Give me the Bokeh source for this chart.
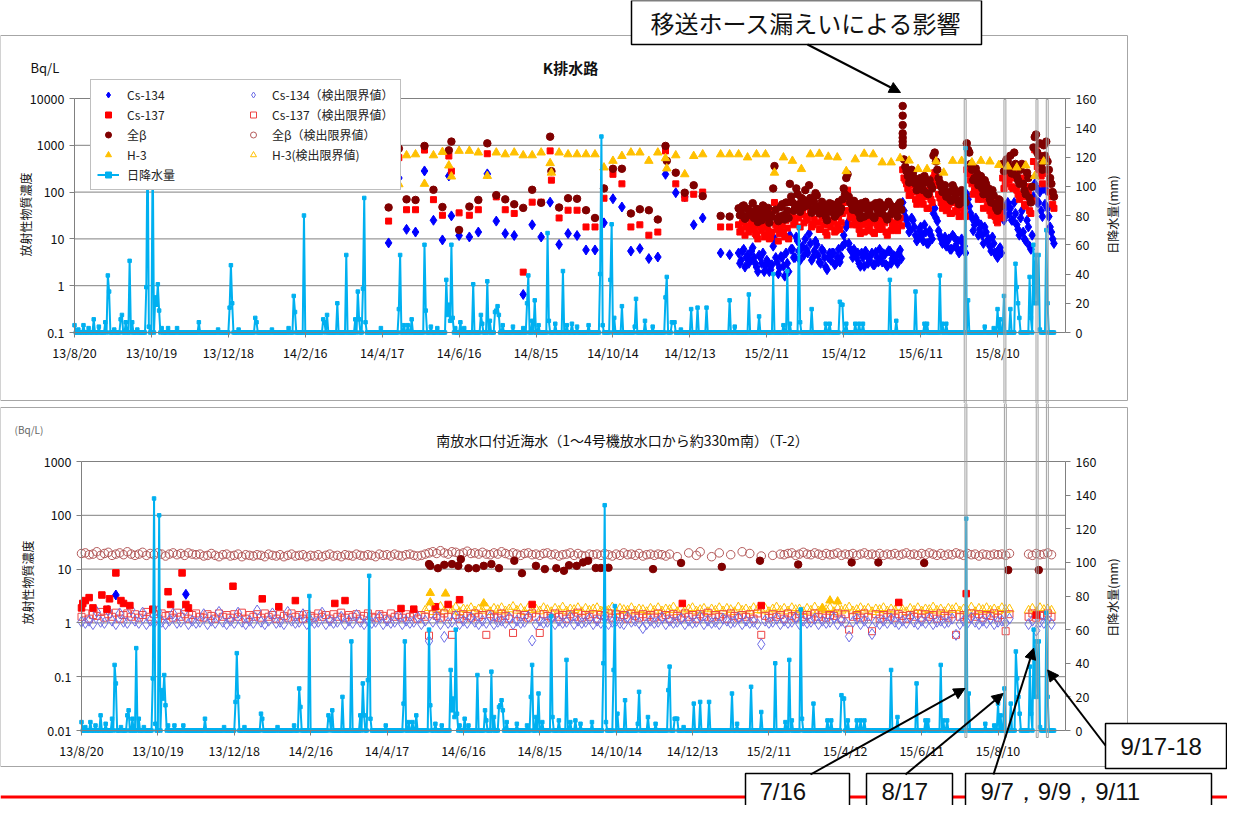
import numpy as np
import pandas as pd
from bokeh.plotting import figure
from bokeh.layouts import column
from bokeh.models import (Range1d, LinearAxis, LinearScale, FixedTicker, CustomJSTickFormatter,
                          Legend, LegendItem, Label, BoxAnnotation, Arrow, NormalHead)
from bokeh.embed import file_html
from bokeh.resources import INLINE

nan = float("nan")

# ---------------- axes ----------------
x_start = "2013-08-20"
x_end = "2015-10-02"
x_tick_dates = ["2013-08-20", "2013-10-19", "2013-12-18", "2014-02-16", "2014-04-17", "2014-06-16",
                "2014-08-15", "2014-10-14", "2014-12-13", "2015-02-11", "2015-04-12", "2015-06-11",
                "2015-08-10"]
x_tick_labels = ["13/8/20", "13/10/19", "13/12/18", "14/2/16", "14/4/17", "14/6/16", "14/8/15",
                 "14/10/14", "14/12/13", "15/2/11", "15/4/12", "15/6/11", "15/8/10"]
k_y_ticks = [0.1, 1, 10, 100, 1000, 10000]
k_y_labels = ["0.1", "1", "10", "100", "1000", "10000"]
t2_y_ticks = [0.01, 0.1, 1, 10, 100, 1000]
t2_y_labels = ["0.01", "0.1", "1", "10", "100", "1000"]
rain_ticks = [0, 20, 40, 60, 80, 100, 120, 140, 160]

# ---------------- daily rainfall (mm), days not listed = 0 ----------------
rain_first_day = "2013-08-20"
rain_last_day = "2015-09-23"
rain_dates = ["2013-08-20", "2013-08-23", "2013-08-27", "2013-08-31", "2013-09-04", "2013-09-08", "2013-09-13",
              "2013-09-15", "2013-09-16", "2013-09-20", "2013-09-25", "2013-09-26", "2013-09-29", "2013-10-02",
              "2013-10-04", "2013-10-08", "2013-10-15", "2013-10-16", "2013-10-17", "2013-10-20", "2013-10-22",
              "2013-10-23", "2013-10-24", "2013-10-25", "2013-10-27", "2013-11-01", "2013-11-08", "2013-11-25",
              "2013-12-10", "2013-12-19", "2013-12-20", "2013-12-21", "2013-12-26",
              "2014-01-08", "2014-01-09", "2014-01-21", "2014-02-03", "2014-02-07", "2014-02-08", "2014-02-15",
              "2014-03-02", "2014-03-03", "2014-03-05", "2014-03-13", "2014-03-20", "2014-03-27", "2014-03-29",
              "2014-03-30", "2014-04-02", "2014-04-03", "2014-04-04", "2014-04-16", "2014-04-30", "2014-05-01",
              "2014-05-04", "2014-05-07", "2014-05-10", "2014-05-20", "2014-05-21", "2014-05-25", "2014-05-30",
              "2014-06-06", "2014-06-07", "2014-06-08", "2014-06-09", "2014-06-10", "2014-06-11", "2014-06-13",
              "2014-06-17", "2014-06-20", "2014-06-27", "2014-07-03", "2014-07-04", "2014-07-08", "2014-07-10",
              "2014-07-14", "2014-07-15", "2014-07-16", "2014-07-17", "2014-07-20", "2014-07-28", "2014-08-05",
              "2014-08-08", "2014-08-09", "2014-08-12", "2014-08-14", "2014-08-17", "2014-08-24", "2014-08-25",
              "2014-08-30", "2014-09-05", "2014-09-08", "2014-09-12", "2014-09-16", "2014-09-25", "2014-10-04",
              "2014-10-05", "2014-10-06", "2014-10-12", "2014-10-13", "2014-10-15", "2014-10-21", "2014-10-31",
              "2014-11-01", "2014-11-08", "2014-11-14", "2014-11-24", "2014-11-25", "2014-11-29", "2014-11-30",
              "2014-12-01", "2014-12-06", "2014-12-14", "2014-12-19", "2014-12-26",
              "2015-01-13", "2015-01-17", "2015-01-28", "2015-02-05", "2015-02-16", "2015-02-24", "2015-02-27",
              "2015-03-01", "2015-03-08", "2015-03-09", "2015-03-18", "2015-03-29", "2015-04-01", "2015-04-09",
              "2015-04-10", "2015-04-11", "2015-04-14", "2015-04-21", "2015-04-24", "2015-04-27", "2015-05-18",
              "2015-05-23", "2015-06-07", "2015-06-14", "2015-06-16", "2015-06-26", "2015-06-28", "2015-07-01",
              "2015-07-16", "2015-07-18", "2015-07-31", "2015-08-07", "2015-08-10", "2015-08-12", "2015-08-15",
              "2015-08-20", "2015-08-24", "2015-08-25", "2015-08-26", "2015-08-27", "2015-09-04", "2015-09-05",
              "2015-09-07", "2015-09-08", "2015-09-09", "2015-09-10", "2015-09-11", "2015-09-12", "2015-09-17",
              "2015-09-18"]
rain_mm = [5, 2, 5, 3, 9, 4, 7,
           39, 28, 2, 9, 12, 7, 49,
           7, 2, 31, 138, 4, 128, 24,
           19, 33, 15, 3, 3, 3, 7,
           2, 17, 46, 20, 2,
           10, 7, 2, 3, 25, 14, 80,
           9, 7, 12, 20, 53, 9, 28,
           9, 30, 92, 7, 3, 16, 53,
           5, 5, 9, 60, 15, 4, 3,
           36, 12, 19, 8, 60, 10, 3,
           7, 3, 33, 12, 6, 35, 8,
           14, 15, 18, 12, 5, 4, 3,
           20, 39, 8, 22, 5, 68, 8,
           6, 42, 5, 6, 4, 5, 40,
           134, 5, 36, 74, 10, 18, 4,
           23, 8, 4, 24, 38, 7, 7,
           7, 2, 16, 17, 17,
           22, 4, 26, 11, 40, 5, 42,
           6, 72, 7, 16, 6, 6, 21,
           19, 19, 6, 6, 6, 6, 36,
           8, 28, 6, 6, 39, 6, 6,
           126, 22, 4, 3, 16, 9, 25,
           16, 47, 31, 20, 10, 38, 10,
           60, 20, 53, 20, 53, 2, 70,
           20]

# ---------------- K排水路 (Bq/L) ----------------
k_weekly_dates = ["2014-04-22", "2014-04-30", "2014-05-06", "2014-05-13", "2014-05-20", "2014-05-27",
                  "2014-06-03", "2014-06-08", "2014-06-10", "2014-06-16", "2014-06-24", "2014-07-01",
                  "2014-07-08", "2014-07-15", "2014-07-22", "2014-07-29", "2014-08-05", "2014-08-12",
                  "2014-08-19", "2014-08-26", "2014-08-27", "2014-09-02", "2014-09-09", "2014-09-16",
                  "2014-09-23", "2014-09-30", "2014-10-07", "2014-10-14", "2014-10-21", "2014-10-28",
                  "2014-11-04", "2014-11-11", "2014-11-18", "2014-11-24", "2014-11-25", "2014-12-02",
                  "2014-12-09", "2014-12-16", "2014-12-23", "2015-01-06", "2015-01-13"]
k_weekly_beta = [47, 850, 70, 68, 970, 112, 48, 780, 1200, 15.5, 49, 68, 1100, 86, 70, 55, 46, 112, 59, 1530,
                 280, 47, 74, 72, 41, 28, 120, 315, 315, 35, 43, 41, 26, 970, 465, 260, 97, 140, 82, 31, 30]
k_weekly_cs137 = [24, 545, 42, 42, 790, 69, 32, 590, 280, 36, 32, 42, 660, 79, 42, 35, 1.95, 61, 61, 760,
                  180, 28, 41, 41, 18, 18, 74, 240, 150, 18, 20, 12, 14, 760, nan, 150, 74, 90, 100, 18, 18]
k_weekly_cs134 = [8.2, 200, 16, 14, 283, 25, 9.5, 221, 31, 11.8, 11, 14, 245, 24, 13, 11.8, 0.65, 20, 11, 61,
                  nan, 7.6, 13, 11.8, 5.8, 5.8, 22, 72, 48, 5.5, 6.2, 3.8, 4.1, 240, nan, 97, 79, 20, 28, 5.0, 4.6]

# near-daily sampling: set A on even days from 2015-01-20, set B on the days in between
k_daily_start_a = "2015-01-20"
k_daily_start_b = "2015-01-21"
k_daily_beta_a = [45, 38, 52, 30, 41, 35, 28, 44, 33, 25, 48, 36, 22, 30, 360, 27, 30, 55, 26, 40, 150,
                  60, 45, 90, 38, 70, 110, 52, 75, 42, 95, 48, 36, 55, 30, 44, 38, 50, 33, 62, 45,
                  120, 200, 80, 55, 65, 40, 35, 58, 30, 46, 38, 52, 28, 44, 60, 35, 48, 26, 55, 40,
                  45, 30, 60, 1200, 350, 220, 180, 260, 150, 120, 200, 110, 160, 90, 140,
                  600, 450, 200, 130, 110, 80, 100, 65, 120, 70, 55, 110, 80, 1100,
                  700, 300, 200, 250, 160, 120, 180, 90, 70, 110, 55, 40, 65, 400, 300,
                  450, 600, 250, 400, 180, 300, 150, 90, 200, 60, 900, 1700, 600, 400, 1000,
                  1200, 300, 150, 80]
k_daily_beta_b = [32, 50, 27, 44, 36, 58, 40, 23, 37, 52, 29, 46, 33, 120, 42, 24, 48, 32, 60, 28, 80,
                  40, 120, 55, 75, 48, 65, 140, 36, 60, 85, 35, 62, 42, 25, 58, 55, 30, 46, 38, 70,
                  90, 240, 60, 42, 50, 55, 28, 45, 62, 33, 50, 30, 58, 36, 42, 52, 30, 62, 34, 48,
                  38, 55, 42, 500, 280, 160, 300, 200, 110, 180, 140, 220, 95, 180, 120,
                  700, 300, 160, 100, 140, 95, 70, 140, 85, 100, 65, 90, 60, 800,
                  400, 180, 320, 140, 220, 90, 150, 120, 60, 85, 45, 70, 50, 280, 500,
                  350, 250, 700, 220, 150, 400, 110, 260, 75, 130, 1500, 700, 1100, 300, 600,
                  450, 200, 100]
k_daily_cs137_a = [20, 16, 24, 18, 14, 22, 17, 12, 20, 15, 11, 18, 10, 14, 60, 16, 13, 20, 11, 17, 60,
                   30, 22, 45, 18, 35, 50, 25, 38, 20, 45, 22, 16, 28, 14, 20, 18, 25, 15, 30, 22,
                   60, 90, 40, 28, 32, 20, 16, 26, 14, 22, 18, 25, 13, 20, 28, 16, 22, 12, 26, 19,
                   20, 15, 28, 300, 180, 120, 90, 140, 70, 60, 100, 55, 80, 45, 70,
                   200, 160, 90, 60, 50, 40, 55, 35, 60, 38, 30, 55, 42, 300,
                   250, 150, 110, 130, 90, 70, 95, 50, 40, 60, 30, 22, 35, 200, 150,
                   220, 280, 120, 200, 90, 150, 80, 50, 100, 35, 450, 900, 300, 220, 500,
                   500, 150, 80, 45]
k_daily_cs137_b = [14, 22, 12, 19, 16, 25, 13, 10, 18, 22, 12, 15, 11, 40, 20, 9, 18, 14, 25, 10, 30,
                   20, 55, 28, 33, 22, 30, 60, 18, 26, 40, 16, 28, 20, 12, 25, 24, 14, 20, 16, 35,
                   40, 110, 30, 20, 25, 26, 13, 20, 28, 15, 22, 14, 26, 16, 20, 24, 14, 28, 15, 22,
                   17, 25, 19, 200, 150, 85, 160, 100, 55, 90, 70, 110, 45, 90, 60,
                   260, 140, 75, 45, 65, 48, 35, 70, 40, 50, 32, 45, 30, 250,
                   180, 90, 150, 70, 110, 45, 80, 60, 32, 45, 25, 35, 28, 120, 260,
                   180, 130, 300, 110, 70, 200, 55, 130, 40, 65, 800, 350, 600, 150, 300,
                   250, 100, 55]
k_daily_cs134_a = [5, 3.5, 6, 4, 3, 5.5, 4, 2.5, 4.5, 3, 2, 3.5, 2, 2.8, 10, 3.2, 2.4, 4, 1.6, 3, 12,
                   6, 4, 9, 3.5, 7, 10, 5, 8, 4, 9, 4.5, 3, 5.5, 2.5, 4, 3.5, 5, 3, 6, 4.2,
                   12, 18, 8, 5.5, 6, 4, 3, 5, 2.6, 4.4, 3.6, 5, 2.8, 4, 6, 3.2, 4.6, 2.6, 5.5, 3.8,
                   4.2, 3, 5.8, 60, 30, 20, 15, 25, 12, 10, 18, 9, 14, 8, 12,
                   35, 28, 15, 10, 9, 7, 10, 6, 11, 6.5, 5, 10, 7, 90,
                   50, 28, 20, 24, 16, 12, 18, 9, 7, 11, 5, 4, 6.5, 40, 30,
                   60, 45, 25, 35, 16, 28, 14, 9, 18, 6, 80, 130, 60, 40, 120,
                   110, 30, 14, 8]
k_daily_cs134_b = [3, 5.5, 2.5, 4.5, 3.5, 6.5, 3, 2, 4, 5, 2.6, 3.2, 2.2, 7, 4, 1.8, 4.2, 2.6, 5, 2, 6,
                   4, 11, 5.5, 6.5, 4.5, 6, 13, 3.5, 5.5, 7.5, 3.2, 6, 4, 2.2, 5, 5, 2.8, 4, 3.2, 7,
                   8, 22, 6, 4, 5, 5, 2.6, 4, 5.5, 3, 4.4, 2.8, 5.2, 3.2, 4, 4.8, 2.8, 5.6, 3, 4.4,
                   3.4, 5, 3.8, 40, 25, 14, 28, 18, 9, 15, 12, 20, 8, 15, 10,
                   45, 24, 12, 8, 11, 9, 6, 12, 7, 9, 5.5, 8, 5, 70,
                   35, 15, 28, 12, 20, 8, 14, 10, 5.5, 8, 4.5, 6, 5, 25, 50,
                   35, 25, 60, 20, 12, 40, 10, 25, 7, 12, 150, 60, 100, 30, 55,
                   45, 18, 10]
k_leak_date = "2015-05-28"
k_leak_beta = [6900, 4300, 2700, 1800, 1450, 1000]

k_h3_dates = k_weekly_dates + ["2015-01-20", "2015-01-27", "2015-02-03", "2015-02-10", "2015-02-17", "2015-02-24",
                               "2015-03-03", "2015-03-10", "2015-03-17", "2015-03-24", "2015-03-31", "2015-04-07",
                               "2015-04-14", "2015-04-21", "2015-04-28", "2015-05-05", "2015-05-12", "2015-05-19",
                               "2015-05-26", "2015-06-02", "2015-06-09", "2015-06-16", "2015-06-23", "2015-06-29",
                               "2015-07-06", "2015-07-13", "2015-07-21", "2015-07-28", "2015-08-04", "2015-08-11",
                               "2015-08-18", "2015-08-25", "2015-09-01", "2015-09-08", "2015-09-15"]
k_h3 = [610, 147, 610, 640, 150, 610, 720, 370, 215, 760, 760, 700, 221, 700, 640, 700, 610, 610, 700, 415,
        260, 700, 640, 640, 640, 640, 335, 465, 590, 700, 700, 465, 700, 530, 320, 610, 240, 590, 640, 640,
        640,
        640, 550, 640, 640, 260, 550, 465, 310, 640, 660, 570, 550, 280, 500, 660, 640, 430, 430, 530, 470,
        310, 310, 450, 260, 465, 465, 430, 465, 450, 380, 350, 335, 370, 220, 450]

# ---------------- 南放水口付近海水 T-2 (Bq/L) ----------------
t2_cs137_dates = ["2013-08-20", "2013-08-21", "2013-08-23", "2013-08-26", "2013-08-29", "2013-09-05", "2013-09-09",
                  "2013-09-11", "2013-09-16", "2013-09-20", "2013-09-22", "2013-09-27", "2013-10-15", "2013-10-27",
                  "2013-10-29", "2013-11-07", "2013-11-10", "2013-11-12", "2013-12-17", "2014-01-09", "2014-01-22",
                  "2014-02-04", "2014-03-07", "2014-03-15", "2014-04-28", "2014-05-08", "2014-05-25", "2014-06-04",
                  "2014-06-13", "2014-08-09", "2014-12-05", "2015-02-05", "2015-05-24", "2015-07-16", "2015-09-09"]
t2_cs137 = [1.9, 2.3, 2.6, 2.95, 1.9, 3.3, 1.8, 2.8, 8.5, 2.6, 2.3, 2.1, 1.8, 3.8, 2.2, 8.5, 2.2, 1.9, 4.8, 2.8,
            2.0, 2.6, 2.3, 2.6, 1.85, 1.8, 2.0, 2.2, 2.7, 2.2, 2.3, 2.1, 2.4, 3.5, 1.4]
t2_cs134_dates = ["2013-09-16", "2013-11-10"]
t2_cs134 = [3.3, 3.4]
t2_h3_dates = ["2014-05-21", "2014-05-21", "2014-06-02", "2014-07-02", "2015-03-25", "2015-03-31", "2015-04-06"]
t2_h3 = [3.6, 2.4, 3.5, 2.3, 1.9, 2.6, 2.5]
t2_beta_dates = ["2014-05-20", "2014-05-21", "2014-05-27", "2014-06-01", "2014-06-07", "2014-06-12", "2014-06-14",
                 "2014-06-20", "2014-06-26", "2014-07-02", "2014-07-08", "2014-07-14", "2014-07-26", "2014-08-01",
                 "2014-08-12", "2014-08-19", "2014-08-28", "2014-09-03", "2014-09-07", "2014-09-13", "2014-09-18",
                 "2014-09-22", "2014-09-28", "2014-10-02", "2014-10-08", "2014-11-12", "2014-12-04", "2015-01-05",
                 "2015-02-04", "2015-03-06", "2015-04-17", "2015-05-08", "2015-06-13", "2015-08-18", "2015-09-11"]
t2_beta = [12.4, 11.5, 10.4, 12, 12.4, 11.5, 15.3, 10.4, 10.4, 11.5, 12.4, 10.4, 14.3, 8.4, 11.5, 10, 10.4, 9.3,
           11.8, 11.5, 13.3, 14.3, 10.5, 10.5, 10.6, 10, 13, 11, 14.3, 12.2, 13.3, 13.3, 13, 9.6, 9.6]

# detection-limit values, one every 3 days from 2013-08-20 (nan = not plotted)
t2_dl_start = "2013-08-20"
t2_beta_dl = [19.5, 20, 18.5, 19, 21, 18, 19.5, 20.5, 18, 19, 20, 18.5, 21, 19, 18,
              19, 20.5, 18, 19.5, 18.5, 20, 19, 17.5, 19, 20, 18.5, 19.5, 18, 20, 19,
              18.5, 19, 17.5, 18, 19.5, 18, 17, 18.5, 19, 17.5, 18, 19, 17, 18.5, 18,
              17.5, 18.5, 18, 17, 19, 18, 17.5, 18.5, 17, 18, 19, 17.5, 18, 18.5, 17,
              18, 17.5, 18.5, 17, 18, 19, 17.5, 18, 17, 18.5, 18, 17.5, 19, 18, 17.5,
              18.5, 18, 17, 19, 18, 18.5, 17.5, 19, 18, 17.5, 18.5, 19, 18, 17.5, 18,
              19, 20, 21, 19.5, 22, 20, 19, 21, 20.5, 19, 20, 21.5, 19.5, 20, 19,
              20.5, 19, 18.5, 20, 19, 21, 19.5, 18.5, 20, 19, 18, 19.5, 20, 18.5, 19,
              18, 19.5, 20, 18.5, 19, 17.5, 18.5, 19, 20, 18, 19.5, 18, 17.5, 19, 18.5,
              19, 18, 19.5, 18.5, 17.5, 19, 18, 20, 18.5, 19, 18, 19.5, 17.5, 18.5, 19,
              18, 19, 18.5, 17.5, 19, nan, 17, nan, nan, 20, nan, 18, 21, nan, nan,
              17, nan, 20, nan, nan, 18.5, nan, nan, 21, nan, 19.5, nan, nan, 17.5, nan,
              nan, 18, nan, 19, 18.5, 19.5, 20, 18, 19, 20.5, 19, 18.5, 20, 19, 18,
              19.5, 18.5, 19, 20, 18, 19, 18.5, 19.5, 18, 19, 20, 18.5, 19, 18, 19.5,
              18, 19, 18.5, 19.5, 18, 19, 20, 18.5, 19, 18, 19.5, 18.5, 20, 19, 18,
              19.5, 18, 19, 18.5, 20, 19, 18, 19.5, 18.5, 19, 17.5, 19, 18.5, 18, 19,
              18.5, 19, 18, 19.5, nan, nan, nan, nan, 19, 18, 19.5, 18.5, 19, 20, 18.5]
t2_cs134_dl = [1.05, 1.0, 1.1, 0.95, 1.6, 1.05, 1.0, 1.7, 1.1, 0.95, 1.5, 1.05, 1.0, 1.75, 1.1,
               1.0, 1.55, 0.95, 1.1, 1.0, 1.65, 1.05, 0.95, 1.1, 1.5, 1.0, 1.05, 1.7, 0.95, 1.1,
               1.0, 1.05, 1.45, 0.95, 1.1, 1.0, 1.6, 1.05, 0.95, 1.1, 1.0, 1.55, 1.05, 0.95, 1.1,
               1.0, 1.7, 1.05, 0.95, 1.1, 1.5, 1.0, 1.05, 0.95, 1.6, 1.1, 1.0, 1.05, 1.45, 0.95,
               1.1, 1.0, 1.05, 1.55, 0.95, 1.1, 1.0, 1.05, 1.3, 0.95, 1.1, 1.0, 1.4, 1.05, 0.95,
               1.1, 1.0, 1.05, 1.3, 0.95, 1.1, 1.0, 1.05, 1.35, 0.95, 1.1, 1.0, 1.05, 1.3, 0.95,
               1.1, 0.46, 1.05, 1.3, 0.95, 0.55, 1.0, 1.05, 1.35, 0.95, 1.1, 1.0, 1.25, 1.05, 0.95,
               1.1, 1.0, 1.3, 0.95, 1.05, 1.1, 1.0, 1.25, 0.95, 1.1, 1.0, 1.05, 1.3, 0.47, 0.95,
               1.1, 1.0, 1.05, 1.25, 0.95, 1.1, 1.0, 1.05, 1.3, 0.95, 1.1, 1.0, 1.05, 1.2, 0.95,
               1.1, 1.0, 1.25, 0.95, 1.05, 1.1, 1.0, 0.95, 1.3, 1.05, 1.1, 1.0, 0.8, 0.95, 1.1,
               1.0, 1.05, 1.25, 0.95, 1.1, 1.0, 1.05, 1.2, 0.95, 1.1, 1.0, 1.05, 1.3, 0.95, 1.1,
               1.0, 1.05, 0.95, 1.2, 1.1, 1.0, 1.05, 1.25, 0.95, 1.1, 1.0, 1.05, 0.95, 0.4, 1.1,
               1.0, 1.05, 1.2, 0.95, 1.1, 1.0, 1.05, 1.25, 0.95, 1.1, 1.0, 1.05, 1.2, 0.95, 1.1,
               1.0, 1.05, 1.25, 0.95, 1.1, 1.0, 0.56, 1.05, 1.2, 0.95, 1.1, 1.0, 0.62, 1.05, 0.95,
               1.1, 1.0, 1.2, 1.05, 0.95, 1.1, 1.0, 1.25, 1.05, 0.95, 1.1, 1.0, 1.2, 0.95, 1.05,
               1.1, 1.0, 1.05, 1.2, 0.6, 0.95, 1.1, 1.0, 1.25, 1.05, 0.95, 1.1, 1.0, 1.2, 0.95,
               1.05, 1.1, 1.0, 1.2, nan, nan, nan, nan, 0.95, 1.1, 0.72, 1.05, 1.0, 1.15, 0.95]
t2_cs137_dl = [1.3, 1.5, 1.2, 1.4, 1.35, 1.6, 1.25, 1.45, 1.3, 1.55, 1.2, 1.4, 1.5, 1.3, 1.45,
               1.25, 1.4, 1.6, 1.3, 1.45, 1.2, 1.5, 1.35, 1.4, 1.25, 1.55, 1.3, 1.45, 1.2, 1.4,
               1.5, 1.3, 1.25, 1.45, 1.35, 1.2, 1.5, 1.3, 1.4, 1.25, 1.45, 1.3, 1.55, 1.2, 1.4,
               1.3, 1.45, 1.25, 1.5, 1.3, 1.4, 1.2, 1.45, 1.35, 1.25, 1.5, 1.3, 1.4, 1.2, 1.45,
               1.35, 1.25, 1.5, 1.3, 1.4, 1.2, 1.45, 1.3, 1.55, 1.25, 1.4, 1.3, 1.45, 1.2, 1.35,
               1.5, 1.3, 1.25, 1.45, 1.35, 1.2, 1.5, 1.3, 1.4, 1.25, 1.45, 1.3, 1.5, 1.2, 1.4,
               1.3, 0.58, 1.45, 1.35, 1.25, 1.5, 1.3, 0.6, 1.4, 1.2, 1.45, 1.35, 1.25, 1.5, 1.3,
               1.4, 0.6, 1.45, 1.3, 1.25, 1.5, 1.35, 1.2, 0.65, 1.45, 1.3, 1.4, 1.25, 1.5, 1.3,
               0.65, 1.45, 1.35, 1.25, 1.5, 1.3, 1.4, 1.2, 1.45, 1.3, 1.55, 1.25, 1.4, 1.3, 1.45,
               1.2, 1.4, 1.35, 1.5, 1.25, 1.45, 1.3, 1.4, 1.2, 1.5, 1.35, 1.25, 1.45, 1.3, 1.4,
               1.25, 1.5, 1.3, 1.4, 1.2, 1.45, 1.35, 1.25, 1.5, 1.3, 1.4, 1.2, 1.45, 1.3, 1.55,
               1.25, 1.4, 1.3, 1.45, 1.2, 1.5, 1.35, 1.25, 1.4, 1.3, 1.45, 1.2, 1.5, 0.6, 1.35,
               1.25, 1.45, 1.3, 1.4, 1.2, 1.5, 1.35, 1.25, 1.45, 1.3, 1.4, 1.2, 1.5, 1.3, 1.45,
               1.25, 1.4, 1.35, 1.5, 1.2, 1.45, 0.75, 1.3, 1.4, 1.25, 1.5, 1.3, 0.7, 1.45, 1.2,
               1.4, 1.3, 1.5, 1.25, 1.45, 1.35, 1.2, 1.4, 1.3, 1.5, 1.25, 1.45, 1.3, 1.4, 1.2,
               1.5, 1.35, 1.25, 1.45, 0.6, 1.3, 1.4, 1.2, 1.5, 1.3, 1.45, 1.25, 1.4, 1.35, 1.5,
               1.25, 1.4, 0.7, 1.45, nan, nan, nan, nan, 1.3, 1.5, 1.25, 1.4, 1.35, 1.5, 1.3]
t2_h3_dl = [nan] * 90 + [
               1.7, 1.9, 1.6, 1.8, 2.0, 1.65, 1.85, 1.7, 1.95, 1.6, 1.8, 1.75, 1.9, 1.65, 1.8,
               1.7, 1.95, 1.6, 1.85, 1.75, 1.9, 1.65, 1.8, 2.0, 1.7, 1.85, 1.6, 1.9, 1.75, 1.8,
               1.65, 1.9, 1.75, 1.6, 1.85, 1.7, 1.95, 1.65, 1.8, 1.75, 1.9, 1.6, 1.85, 1.7, 1.8,
               1.9, 1.65, 1.8, 1.7, 1.95, 1.6, 1.85, 1.75, 1.7, 1.9, 1.65, 1.8, 1.75, 1.6, 1.85,
               1.7, 1.9, 1.65, 1.8, 1.75, 1.95, 1.6, 1.85, 1.7, 1.8, 1.9, 1.65, 1.75, 1.85, 1.6,
               1.8, 1.7, 1.9, 1.65, 1.85, 1.75, 1.6, 1.95, 1.7, 1.8, 1.65, 1.9, 1.75, 1.7, 1.85,
               1.6, 1.8, 1.95, 1.7, 1.85, 1.65, 1.9, 1.75, 1.8, 1.6, 1.85, 1.7, 1.95, 1.65, 1.8,
               1.75, 1.9, 1.6, 1.85, 1.7, 1.8, 1.95, 1.65, 1.75, 1.9, 1.7, 1.85, 1.6, 1.8, 1.75,
               1.9, 1.65, 1.8, 1.7, 1.95, 1.75, 1.6, 1.85, 1.7, 1.9, 1.65, 1.8, 1.75, 1.95, 1.7,
               1.8, 1.6, 1.85, 1.75, 1.9, 1.65, 1.8, 1.7, 1.95, 1.6, 1.85, 1.75, 1.9, 1.7, 1.8,
               1.65, 1.9, 1.75, 1.8, nan, nan, nan, nan, 1.7, 1.85, 1.6, 1.9, 1.75, 1.8, 1.7]

# ---------------- annotation dates ----------------
event_line_dates = ["2015-07-15", "2015-08-15", "2015-09-09", "2015-09-17"]
callout_targets = [("7/16", "2015-07-15", 25), ("8/17", "2015-08-14", 22),
                   ("9/7，9/9，9/11", "2015-09-07", 49), ("9/17-18", "2015-09-18", 36)]

# ---------------- styling / geometry ----------------
FONT = "Noto Sans CJK JP"
ARIAL = "Liberation Sans"
GRID = "#808080"
C134, C137, CBETA, CH3, CRAIN = "#0000FF", "#FF0000", "#800000", "#FFC000", "#00B0F0"
C134DL, C137DL, CBETADL, CH3DL = "#6E6EE6", "#EE4444", "#B45A5A", "#FFC000"
W = 1227
# plot-area boxes in canvas pixels (left, right, top, bottom) and canvas heights
P1_BOX, H1 = (74, 1065, 98, 332), 403
P2_BOX, H2 = (81, 1065, 58, 327), 402


def ts(s):
    return pd.to_datetime(s)


def ms(s):
    return pd.Timestamp(s).value / 1e6


rain_days = pd.date_range(rain_first_day, rain_last_day, freq="D")
rain_series = pd.Series(0.0, index=rain_days)
rain_series.loc[pd.to_datetime(rain_dates)] = rain_mm

TICK_JS = """
let best = 0;
for (let i = 1; i < tvals.length; i++) {
  if (Math.abs(tvals[i] - tick) < Math.abs(tvals[best] - tick)) best = i;
}
return tlabels[best];
"""
LOG_TICK_JS = """
let best = 0;
const lt = Math.log10(tick);
for (let i = 1; i < tvals.length; i++) {
  if (Math.abs(Math.log10(tvals[i]) - lt) < Math.abs(Math.log10(tvals[best]) - lt)) best = i;
}
return tlabels[best];
"""
x_tick_ms = [ms(d) for d in x_tick_dates]


def make_fig(H, box, yticks, ylabels):
    """Frame fills the whole canvas; axes are pinned (fixed_location) to the plot-area edges."""
    l, r, t, b = box
    x0, x1 = ts(x_start), ts(x_end)
    days = (x1 - x0).days
    ppd = (r - l) / days
    xr = Range1d(x0 - pd.Timedelta(days=l / ppd), x0 + pd.Timedelta(days=(W - l) / ppd))
    lo, hi = np.log10(yticks[0]), np.log10(yticks[-1])
    ppdec = (b - t) / (hi - lo)
    yr = Range1d(10 ** (lo - (H - b) / ppdec), 10 ** (hi + t / ppdec))
    ppmm = (b - t) / rain_ticks[-1]
    rr = Range1d(-(H - b) / ppmm, rain_ticks[-1] + t / ppmm)

    p = figure(width=W, height=H, x_axis_type="datetime", y_axis_type="log", x_range=xr, y_range=yr,
               toolbar_location=None, output_backend="svg", min_border=0,
               min_border_left=0, min_border_right=0, min_border_top=0, min_border_bottom=0,
               background_fill_color="white", border_fill_color="white")
    p.outline_line_color = None
    p.grid.visible = False
    p.extra_y_ranges = {"rain": rr}
    p.extra_y_scales = {"rain": LinearScale()}
    p.add_layout(LinearAxis(y_range_name="rain", ticker=FixedTicker(ticks=rain_ticks, minor_ticks=[]),
                            fixed_location=ms(x_end), bounds=(rain_ticks[0], rain_ticks[-1])), "right")
    xa = p.xaxis[0]
    xa.ticker = FixedTicker(ticks=x_tick_ms, minor_ticks=[])
    xa.formatter = CustomJSTickFormatter(args=dict(tvals=x_tick_ms, tlabels=x_tick_labels), code=TICK_JS)
    xa.fixed_location = yticks[0]
    xa.bounds = (ms(x_start), ms(x_end))
    ya = p.yaxis[0]
    ya.ticker = FixedTicker(ticks=yticks, minor_ticks=[])
    ya.formatter = CustomJSTickFormatter(args=dict(tvals=yticks, tlabels=ylabels), code=LOG_TICK_JS)
    ya.fixed_location = ms(x_start)
    ya.bounds = (yticks[0], yticks[-1])
    for ax in p.axis:
        ax.axis_line_color = GRID
        ax.major_tick_line_color = GRID
        ax.major_tick_in = 0
        ax.major_tick_out = 5
        ax.minor_tick_in = 0
        ax.minor_tick_out = 0
        ax.major_label_text_font = FONT
        ax.major_label_text_font_size = "12.5px"
        ax.major_label_text_color = "#111111"
        ax.major_label_standoff = 5
    # horizontal grid lines at the decades of the left axis
    g = yticks[1:]
    p.segment(x0=[x0] * len(g), x1=[x1] * len(g), y0=g, y1=g, line_color=GRID, line_width=1)
    return p


def sbox(p, H, l, r, t, b, **kw):
    """box given in canvas pixels (y down)"""
    p.add_layout(BoxAnnotation(left=l, right=r, top=H - t, bottom=H - b, left_units="screen",
                               right_units="screen", top_units="screen", bottom_units="screen", **kw))


def slabel(p, H, x, y, text, size, font=FONT, align="left", angle=0.0, color="#111111", style="normal"):
    p.add_layout(Label(x=x, y=H - y, x_units="screen", y_units="screen", text=text, text_font=font,
                       text_font_size=size, text_align=align, text_baseline="middle", angle=angle,
                       text_color=color, text_font_style=style))


def event_lines(p, H, top, bottom):
    for d in event_line_dates:
        left = ms(d)
        p.add_layout(BoxAnnotation(left=left, right=left + 1.5 * 86400000, top=H - top, bottom=H - bottom,
                                   top_units="screen", bottom_units="screen", fill_alpha=0,
                                   line_color="#A0A0A0", line_alpha=1.0, line_width=1))


HEAD = dict(size=11, fill_color="black", line_color="black")
FRAME_BORDER = dict(fill_alpha=0, line_color="#A6A6A6", line_alpha=1.0, line_width=1, level="underlay")
CALLOUT = dict(fill_color="white", fill_alpha=1.0, line_color="black", line_alpha=1.0, line_width=1.5)

# ====================== top chart: K排水路 ======================
p1 = make_fig(H1, P1_BOX, k_y_ticks, k_y_labels)
sbox(p1, H1, 0, 1127, 35, 400, **FRAME_BORDER)

for dates, vals in ((ts(k_weekly_dates), k_weekly_cs134),
                    (pd.date_range(k_daily_start_a, periods=len(k_daily_cs134_a), freq="2D"), k_daily_cs134_a),
                    (pd.date_range(k_daily_start_b, periods=len(k_daily_cs134_b), freq="2D"), k_daily_cs134_b)):
    r134 = p1.scatter(dates, vals, marker="diamond", size=10, fill_color=C134, line_color=C134)
for dates, vals in ((ts(k_weekly_dates), k_weekly_cs137),
                    (pd.date_range(k_daily_start_a, periods=len(k_daily_cs137_a), freq="2D"), k_daily_cs137_a),
                    (pd.date_range(k_daily_start_b, periods=len(k_daily_cs137_b), freq="2D"), k_daily_cs137_b)):
    r137 = p1.scatter(dates, vals, marker="square", size=6, fill_color=C137, line_color=C137)
for dates, vals in ((ts(k_weekly_dates), k_weekly_beta),
                    (pd.date_range(k_daily_start_a, periods=len(k_daily_beta_a), freq="2D"), k_daily_beta_a),
                    (pd.date_range(k_daily_start_b, periods=len(k_daily_beta_b), freq="2D"), k_daily_beta_b),
                    (ts([k_leak_date] * len(k_leak_beta)), k_leak_beta)):
    rbeta = p1.scatter(dates, vals, marker="circle", size=7.5, fill_color=CBETA, line_color=CBETA)
rh3 = p1.scatter(ts(k_h3_dates), k_h3, marker="triangle", size=8.5, fill_color=CH3, line_color=CH3)
# detection-limit series: no values in this panel (single empty point), kept for the shared legend
no_x, no_y = [ts(x_start)], [nan]
d134 = p1.scatter(no_x, no_y, marker="diamond", size=10, fill_color=None, line_color=C134DL)
d137 = p1.scatter(no_x, no_y, marker="square", size=7, fill_color=None, line_color=C137DL)
dbeta = p1.scatter(no_x, no_y, marker="circle", size=8, fill_color=None, line_color=CBETADL)
dh3 = p1.scatter(no_x, no_y, marker="triangle", size=8.5, fill_color=None, line_color=CH3DL)
rl1 = p1.line(rain_series.index, rain_series.values, y_range_name="rain", line_color=CRAIN, line_width=2)
rp1 = p1.scatter(rain_series.index, rain_series.values, y_range_name="rain", marker="square", size=3.5,
                 fill_color=CRAIN, line_color=CRAIN)

event_lines(p1, H1, 99, H1)

legend = Legend(items=[LegendItem(label="Cs-134", renderers=[r134]),
                       LegendItem(label="Cs-137", renderers=[r137]),
                       LegendItem(label="全β", renderers=[rbeta]),
                       LegendItem(label="H-3", renderers=[rh3]),
                       LegendItem(label="日降水量", renderers=[rl1, rp1]),
                       LegendItem(label="Cs-134（検出限界値）", renderers=[d134]),
                       LegendItem(label="Cs-137（検出限界値）", renderers=[d137]),
                       LegendItem(label="全β（検出限界値）", renderers=[dbeta]),
                       LegendItem(label="H-3(検出限界値)", renderers=[dh3])],
                location=(90, H1 - 190), ncols=2, orientation="vertical",
                border_line_color=GRID, border_line_width=1, background_fill_color="white",
                background_fill_alpha=1.0, label_text_font=FONT, label_text_font_size="12px",
                label_text_color="#222222", glyph_width=22, glyph_height=15, label_height=15,
                label_width=112, label_standoff=8, spacing=3, padding=6, margin=0)
p1.add_layout(legend)

slabel(p1, H1, 30, 67, "Bq/L", "13px")
slabel(p1, H1, 570, 67, "K排水路", "15px", align="center", style="bold")
slabel(p1, H1, 25, 214, "放射性物質濃度", "12px", align="center", angle=np.pi / 2)
slabel(p1, H1, 1112, 214, "日降水量(mm)", "12px", align="center", angle=np.pi / 2)
sbox(p1, H1, 631, 981, 0, 44, **CALLOUT)
slabel(p1, H1, 806, 22, "移送ホース漏えいによる影響", "24px", align="center")
p1.add_layout(Arrow(end=NormalHead(**HEAD), x_start=807, y_start=H1 - 44, x_end=900, y_end=H1 - 92,
                    start_units="screen", end_units="screen", line_color="black", line_width=2))

# ====================== bottom chart: T-2 ======================
p2 = make_fig(H2, P2_BOX, t2_y_ticks, t2_y_labels)
sbox(p2, H2, 0, 1127, 4, 363, **FRAME_BORDER)

dl_x = {n: pd.date_range(t2_dl_start, periods=len(v), freq="3D")
        for n, v in (("beta", t2_beta_dl), ("cs134", t2_cs134_dl), ("cs137", t2_cs137_dl), ("h3", t2_h3_dl))}
p2.scatter(dl_x["beta"], t2_beta_dl, marker="circle", size=8.5, fill_color=None, line_color=CBETADL, line_width=1)
p2.scatter(dl_x["h3"], t2_h3_dl, marker="triangle", size=9, fill_color=None, line_color=CH3DL, line_width=1)
p2.scatter(dl_x["cs137"], t2_cs137_dl, marker="square", size=7, fill_color=None, line_color=C137DL, line_width=1)
p2.scatter(dl_x["cs134"], t2_cs134_dl, marker="diamond", size=11, fill_color=None, line_color=C134DL, line_width=1)
p2.scatter(ts(t2_cs134_dates), t2_cs134, marker="diamond", size=10, fill_color=C134, line_color=C134)
p2.scatter(ts(t2_cs137_dates), t2_cs137, marker="square", size=6.5, fill_color=C137, line_color=C137)
p2.scatter(ts(t2_beta_dates), t2_beta, marker="circle", size=7.5, fill_color=CBETA, line_color=CBETA)
p2.scatter(ts(t2_h3_dates), t2_h3, marker="triangle", size=8.5, fill_color=CH3, line_color=CH3)
p2.line(rain_series.index, rain_series.values, y_range_name="rain", line_color=CRAIN, line_width=2)
p2.scatter(rain_series.index, rain_series.values, y_range_name="rain", marker="square", size=3.5,
           fill_color=CRAIN, line_color=CRAIN)

event_lines(p2, H2, 0, 334)
slabel(p2, H2, 14, 26, "(Bq/L)", "10px", color="#666666")
slabel(p2, H2, 622, 36, "南放水口付近海水（1～4号機放水口から約330m南）（T-2）", "14px", align="center")
slabel(p2, H2, 27, 179, "放射性物質濃度", "12px", align="center", angle=np.pi / 2)
slabel(p2, H2, 1112, 194, "日降水量(mm)", "12px", align="center", angle=np.pi / 2)

# red rule and callout boxes
sbox(p2, H2, 0, W, 392, 395, fill_color="#FF0000", fill_alpha=1.0, line_alpha=0)
boxes = [(745, 849, 370, 406, 759, 388), (866, 952, 370, 406, 881, 388), (965, 1211, 370, 406, 980, 388),
         (1105, 1226, 320, 365, 1120, 343)]
starts = [(810, 371), (905, 371), (993, 371), (1105, 342)]
for (l, r, t, b, tx, ty), (txt, d, mm), (sx, sy) in zip(boxes, callout_targets, starts):
    sbox(p2, H2, l, r, t, b, **CALLOUT)
    slabel(p2, H2, tx, ty, txt, "24px", font=ARIAL)
    p2.add_layout(Arrow(end=NormalHead(**HEAD), x_start=sx, y_start=H2 - sy, start_units="screen",
                        x_end=ms(d), y_end=mm, end_units="data", y_range_name="rain",
                        line_color="black", line_width=2))

layout = column(p1, p2, spacing=0)
open("out.html", "w").write(file_html(layout, INLINE))
